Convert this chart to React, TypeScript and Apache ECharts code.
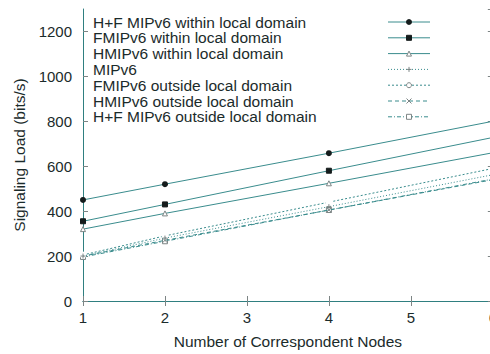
import React, { useEffect, useRef } from "react";
import * as echarts from "echarts";

const xValues = [1, 2, 4, 6];
const seriesNames = [
  "H+F MIPv6 within local domain",
  "FMIPv6 within local domain",
  "HMIPv6 within local domain",
  "MIPv6",
  "FMIPv6 outside local domain",
  "HMIPv6 outside local domain",
  "H+F MIPv6 outside local domain",
];
const hfWithin = [450, 520, 658, 800];
const fmipWithin = [355, 430, 580, 728];
const hmipWithin = [320, 390, 524, 660];
const mipv6 = [200, 280, 420, 562];
const fmipOutside = [205, 290, 440, 590];
const hmipOutside = [200, 270, 405, 540];
const hfOutside = [196, 266, 405, 543];
const markedX = [1, 2, 4];
const yTicks = [0, 200, 400, 600, 800, 1000, 1200];

const FONT = "Liberation Sans, Arial, sans-serif";
const TEXT = "#1b2b2b";
const AXIS = "#2f7f80";
const LINE = "#3a8c8d";
const DARK = "#151c1c";
const GRAY = "#7d8585";

const PLUS = "path://M5,0L5,10M0,5L10,5";
const CROSS = "path://M0,0L10,10M10,0L0,10";

type Style = {
  dash: number[] | "solid";
  symbol: string;
  size: number;
  fill: string;
  stroke: string;
};

const styles: Style[] = [
  { dash: "solid", symbol: "circle", size: 6, fill: DARK, stroke: DARK },
  { dash: "solid", symbol: "rect", size: 5, fill: DARK, stroke: DARK },
  { dash: "solid", symbol: "triangle", size: 5, fill: "#ffffff", stroke: GRAY },
  { dash: [1, 2], symbol: PLUS, size: 5, fill: "none", stroke: GRAY },
  { dash: [2, 2], symbol: "emptyCircle", size: 5, fill: "#ffffff", stroke: GRAY },
  { dash: [4, 3], symbol: CROSS, size: 5, fill: "none", stroke: GRAY },
  { dash: [4, 2, 1, 2], symbol: "rect", size: 5, fill: "#ffffff", stroke: GRAY },
];

const allData = [hfWithin, fmipWithin, hmipWithin, mipv6, fmipOutside, hmipOutside, hfOutside];

function legendMarker(st: Style, cx: number, cy: number): any {
  const r = st.size / 2;
  switch (st.symbol) {
    case "circle":
      return { type: "circle", shape: { cx, cy, r }, style: { fill: st.fill } };
    case "emptyCircle":
      return { type: "circle", shape: { cx, cy, r }, style: { fill: "#fff", stroke: st.stroke, lineWidth: 1 } };
    case "rect":
      return {
        type: "rect",
        shape: { x: cx - r, y: cy - r, width: st.size, height: st.size },
        style: { fill: st.fill, stroke: st.stroke, lineWidth: 1 },
      };
    case "triangle":
      return {
        type: "polygon",
        shape: { points: [[cx, cy - r], [cx + r, cy + r], [cx - r, cy + r]] },
        style: { fill: "#fff", stroke: st.stroke, lineWidth: 1 },
      };
    case PLUS:
      return {
        type: "group",
        children: [
          { type: "line", shape: { x1: cx - r, y1: cy, x2: cx + r, y2: cy }, style: { stroke: st.stroke, lineWidth: 1 } },
          { type: "line", shape: { x1: cx, y1: cy - r, x2: cx, y2: cy + r }, style: { stroke: st.stroke, lineWidth: 1 } },
        ],
      };
    default:
      return {
        type: "group",
        children: [
          { type: "line", shape: { x1: cx - r, y1: cy - r, x2: cx + r, y2: cy + r }, style: { stroke: st.stroke, lineWidth: 1 } },
          { type: "line", shape: { x1: cx - r, y1: cy + r, x2: cx + r, y2: cy - r }, style: { stroke: st.stroke, lineWidth: 1 } },
        ],
      };
  }
}

export default function App() {
  const ref = useRef<HTMLDivElement>(null);
  useEffect(() => {
    if (!ref.current) return;
    const chart = echarts.init(ref.current, undefined, { renderer: "svg" });

    const legendItems: any[] = [];
    seriesNames.forEach((name, i) => {
      const y = 22 + i * 15.8;
      const st = styles[i];
      legendItems.push({
        type: "text",
        x: 93,
        y,
        style: { text: name, fill: TEXT, font: `15.5px ${FONT}`, verticalAlign: "middle", align: "left" },
      });
      legendItems.push({
        type: "line",
        shape: { x1: 388, y1: y, x2: 430, y2: y },
        style: { stroke: LINE, lineWidth: 1, lineDash: st.dash === "solid" ? null : st.dash },
      });
      legendItems.push(legendMarker(st, 409, y));
    });

    const series = allData.map((vals, i) => {
      const st = styles[i];
      return {
        name: seriesNames[i],
        type: "line",
        data: xValues.map((x, j) => ({
          value: [x, vals[j]],
          symbol: markedX.includes(x) ? st.symbol : "none",
        })),
        symbol: st.symbol,
        symbolSize: st.size,
        showAllSymbol: true,
        lineStyle: { color: LINE, width: 1, type: st.dash },
        itemStyle: {
          color: st.fill,
          borderColor: st.stroke,
          borderWidth: st.symbol === "circle" ? 0 : 1,
        },
        z: 10 - i,
      };
    });

    chart.setOption({
      animation: false,
      backgroundColor: "#ffffff",
      grid: { left: 83, right: 6, top: 9, bottom: 47, containLabel: false },
      xAxis: [
        {
          type: "value",
          min: 1,
          max: 6,
          interval: 1,
          name: "Number of Correspondent Nodes",
          nameLocation: "middle",
          nameGap: 32,
          nameTextStyle: { color: TEXT, fontFamily: FONT, fontSize: 15.5 },
          axisLine: { show: true, lineStyle: { color: AXIS, width: 1 } },
          axisTick: { show: true, inside: true, length: 5, lineStyle: { color: GRAY } },
          axisLabel: { color: TEXT, fontFamily: FONT, fontSize: 15, margin: 9 },
          splitLine: { show: false },
        },
        {
          type: "value",
          position: "top",
          min: 1,
          max: 6,
          interval: 1,
          axisLine: { show: true, lineStyle: { color: AXIS, width: 1 } },
          axisTick: { show: true, inside: true, length: 5, lineStyle: { color: GRAY } },
          axisLabel: { show: false },
          splitLine: { show: false },
        },
      ],
      yAxis: [
        {
          type: "value",
          min: 0,
          max: 1300,
          interval: 200,
          name: "Signaling Load (bits/s)",
          nameLocation: "middle",
          nameGap: 56,
          nameRotate: 90,
          nameTextStyle: { color: TEXT, fontFamily: FONT, fontSize: 15.5 },
          axisLine: { show: true, lineStyle: { color: AXIS, width: 1 } },
          axisTick: { show: true, inside: true, length: 5, lineStyle: { color: GRAY } },
          axisLabel: {
            color: TEXT,
            fontFamily: FONT,
            fontSize: 15,
            margin: 11,
            showMaxLabel: false,
            formatter: (v: number) => (yTicks.includes(v) ? String(v) : ""),
          },
          splitLine: { show: false },
        },
        {
          type: "value",
          position: "right",
          min: 0,
          max: 1300,
          interval: 200,
          axisLine: { show: true, lineStyle: { color: AXIS, width: 1 } },
          axisTick: { show: true, inside: true, length: 5, lineStyle: { color: GRAY } },
          axisLabel: { show: false },
          splitLine: { show: false },
        },
      ],
      series,
      graphic: legendItems,
    });
    return () => chart.dispose();
  }, []);

  return (
    <div
      style={{
        position: "fixed",
        left: 0,
        top: 0,
        width: 490,
        height: 354,
        overflow: "hidden",
        background: "#ffffff",
      }}
    >
      <div ref={ref} style={{ width: 500, height: 354 }} />
    </div>
  );
}
